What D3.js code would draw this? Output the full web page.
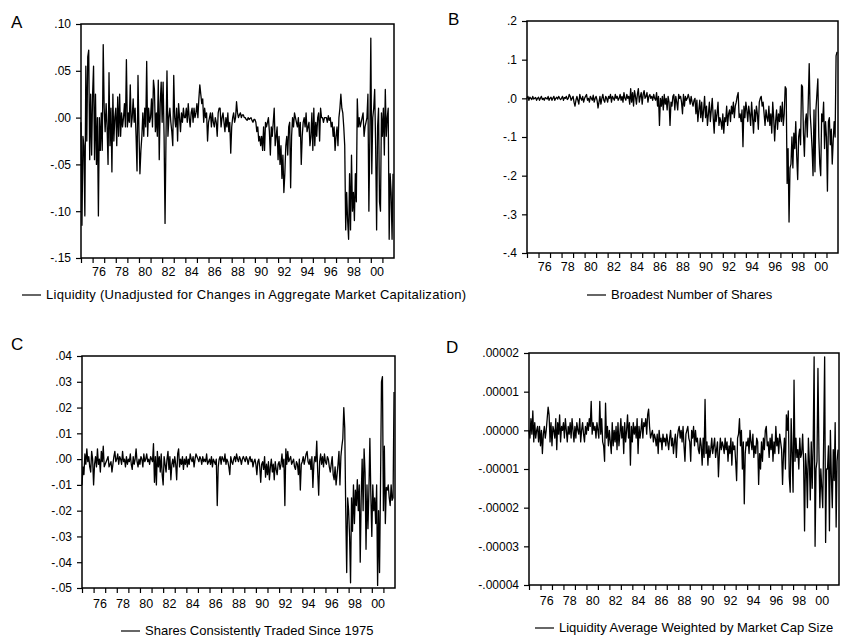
<!DOCTYPE html>
<html>
<head>
<meta charset="utf-8">
<script src="https://cdn.jsdelivr.net/npm/d3@7"></script>
<style>
body { margin: 0; background: #fff; }
svg { display: block; font-family: "Liberation Sans", Arial, Helvetica, sans-serif; }
</style>
</head>
<body>
<svg id="chart" width="850" height="637"></svg>
<script>
// monthly observations, Jan 1975 .. Dec 2001 (one row per year)
var startYear = 1975, endYear = 2002;
var labelYears = [1976, 1978, 1980, 1982, 1984, 1986, 1988, 1990, 1992, 1994, 1996, 1998, 2000];

// A: liquidity, unadjusted (units of 0.001)
var liqUnadjusted = [
  -5,-115,-20,-30,-105,55,-25,65,72,-45,25,-40,
  25,55,-45,25,-50,0,-105,0,-35,5,-35,78,
  10,-15,15,-10,-50,48,-30,10,-58,25,-25,0,
  10,-30,22,-20,25,-20,5,-10,0,15,-10,62,
  -10,5,-5,35,-10,0,20,-5,10,-20,-57,45,
  -15,-60,-35,-20,5,-20,10,-10,60,-20,10,-5,
  0,20,-10,40,30,-15,5,-20,40,-45,15,38,
  -5,38,-20,-113,-20,50,-20,0,10,-5,-15,-30,
  45,0,-10,10,-25,15,0,-15,5,-5,10,0,
  0,10,-5,15,0,-10,5,10,-5,10,0,5,
  15,0,20,35,25,15,20,-5,10,0,5,-25,
  -5,0,5,-10,5,-5,-10,0,-5,-20,5,10,
  10,-10,0,5,-5,-15,0,-10,5,-15,-5,-38,
  -10,0,5,-5,0,17,5,0,3,5,0,3,
  3,0,0,-2,-3,0,-2,-1,0,-3,-5,-2,
  -2,-5,-15,-10,-25,-20,-30,-20,-35,-10,-35,-5,
  -10,-5,0,-15,-40,-10,-20,-5,10,-30,-20,-10,
  -45,-20,-50,-30,-65,-40,-80,-60,-30,-20,-40,-10,
  -5,-75,-20,0,-10,5,0,-5,-10,0,-20,-5,
  -50,-20,-5,0,-10,5,-15,-10,-5,-30,-20,5,
  -35,10,-30,-5,-20,0,5,-25,10,0,0,-5,
  0,0,0,-5,2,-3,0,-10,-5,-20,-10,-35,
  -20,-10,-30,0,10,25,10,5,-10,-30,-120,-80,
  -110,-130,-60,-120,-40,-100,-80,-110,-60,-90,20,-10,
  0,-10,-5,0,5,-20,-10,-5,0,25,-100,-20,
  85,-60,0,10,30,-30,-120,-10,10,-90,-100,5,
  -20,10,-40,30,-20,0,10,-130,-60,-80,-130,-60
];

// B: broadest number of shares (units of 0.001)
var liqBroadest = [
  0,5,-5,3,0,-3,5,-2,0,2,-5,0,
  3,-5,0,5,-3,0,-5,2,0,-2,5,-5,
  0,3,-5,0,5,-5,0,3,-2,5,0,-3,
  0,5,-5,2,0,5,-3,0,10,5,-5,0,
  5,-10,-20,-5,5,-5,-15,10,0,-5,5,-10,
  0,5,10,-5,0,-10,5,0,-5,8,-10,0,
  5,-5,-25,-10,5,-15,0,10,-5,-10,5,0,
  -10,5,0,10,-10,5,0,-5,10,0,5,-5,
  0,10,-5,5,-10,15,0,-5,10,0,5,-15,
  25,-10,15,-20,20,5,-15,10,25,-10,5,15,
  -15,10,20,0,5,15,-10,5,10,0,5,-5,
  10,0,-5,15,-20,5,-70,0,-20,5,-30,10,
  -15,0,-30,5,-10,-70,-10,-20,5,10,-30,5,
  -10,-30,10,0,5,-10,-40,10,-20,5,-5,0,
  10,0,-15,5,-10,-20,-5,0,-40,-5,-60,-30,
  -5,-50,-10,-60,-30,5,-50,-20,-70,-40,-10,-60,
  -30,0,-50,-90,-30,-60,-40,-10,-70,-50,-60,-80,
  -40,-90,-50,-60,-20,-70,-40,-30,-60,-20,-40,-10,
  -50,-20,-10,5,15,-50,-40,-60,-30,-125,-20,-50,
  -10,-30,-60,-20,-40,-70,-10,-50,-90,-30,-60,-20,
  -40,-80,-10,0,5,-20,-10,-40,-70,-30,-50,-60,
  -20,-70,-40,-90,-10,-50,-110,-60,-30,-80,-40,-60,
  -20,-60,-10,-70,-40,30,25,-220,-130,-320,-180,-170,
  -100,-180,-90,-130,-60,-150,-210,-100,-80,-120,35,30,
  -90,-150,-60,-40,-100,-10,90,-40,-80,-130,-200,-30,
  -190,-30,10,50,-100,-170,-200,-40,-60,-10,-130,-60,
  -100,-240,-60,-50,-120,-80,-170,-110,-60,-100,110,120
];

// C: shares consistently traded since 1975 (units of 0.0001)
var liqConsistent = [
  -100,-30,-60,20,-20,40,-10,10,-30,-50,30,0,
  -100,-20,10,-30,40,-20,0,-50,30,-10,50,-30,
  -20,-10,0,10,-30,-20,-10,-50,-20,10,30,-10,
  0,20,-20,10,0,-20,30,-10,0,-30,10,-20,
  0,-10,20,-20,-40,10,-20,0,40,-10,-30,0,
  -20,10,0,-30,20,-10,0,20,-10,0,-20,10,
  0,-10,60,-90,10,-100,30,-30,10,-50,20,-60,
  -100,10,-20,-50,0,30,-40,10,-80,-20,0,-30,
  10,-20,-80,20,40,-30,0,-20,10,-40,0,-20,
  10,-30,0,-20,20,0,-10,10,-30,0,20,10,
  0,-10,10,0,-20,10,-10,0,-10,20,-20,-10,
  0,-20,10,-30,0,-10,-20,0,-180,-30,0,10,
  -20,10,0,-10,20,-20,0,-10,-30,-60,10,-10,
  -20,0,10,-10,20,0,-10,10,0,-20,0,10,
  0,-10,10,0,-20,0,10,-10,0,-30,-10,0,
  -20,-60,-10,0,-30,-90,-20,-10,-40,10,-70,-20,
  -60,-10,-80,-30,0,-50,-20,-80,-10,-40,-60,-20,
  -10,-40,-20,20,-30,0,-180,40,-20,30,-10,0,
  10,-20,-10,0,-30,-40,-10,-20,-60,0,-120,-20,
  -10,10,-20,0,20,30,-10,-20,0,-40,10,-110,
  -20,10,-10,70,-50,-140,-10,20,-20,10,-30,20,
  -10,-20,10,0,-30,-50,-20,10,-60,-80,-30,-100,
  -60,-20,30,-100,10,50,80,200,120,-200,-440,-150,
  -200,-300,-480,-150,-280,-100,-250,-120,-180,-80,-200,-100,
  -400,-150,0,-200,40,-50,-350,-100,-270,-120,80,-140,
  -300,-100,-200,-150,-250,-100,-490,-200,-440,-100,300,320,
  -200,50,-250,-110,-120,-100,-150,-180,-100,-160,-150,260
];

// D: average weighted by market cap size (units of 0.0000001)
var liqWeighted = [
  0,-20,30,-10,50,-30,20,-20,0,10,-30,10,
  -40,0,-60,-10,10,-20,0,30,60,40,-30,20,
  -40,10,0,-20,30,-50,20,-10,40,-30,10,0,
  20,-20,30,0,-30,10,-10,20,-20,30,0,-30,
  10,-20,20,0,-10,30,-30,0,20,-10,-30,10,
  -10,20,0,30,10,75,-10,20,0,10,-20,20,
  0,-20,75,-10,30,-30,-40,-80,70,-20,10,-40,
  0,-30,-60,20,-40,0,-30,10,-50,20,-40,-10,
  30,-20,10,-60,20,-30,0,40,-20,20,-90,10,
  -30,20,-10,10,-20,30,-60,10,-20,0,30,-20,
  20,10,30,-10,40,55,10,-20,-10,0,-30,-10,
  -20,-40,-10,-60,0,-30,-20,-50,-10,-30,-20,-40,
  -10,-30,-50,-20,0,-40,-20,-60,-30,-10,-70,-20,
  0,10,-20,0,-30,10,-40,-80,-10,0,10,-20,
  -30,-80,0,-20,10,-40,0,-30,-20,-50,-60,-20,
  -40,-90,-20,-70,80,-60,-30,-90,-40,-70,-50,-20,
  -60,-40,-20,-70,-50,-30,-120,-60,-20,-50,-30,-40,
  -60,-20,-50,-30,-80,-40,-60,-20,-90,-30,-50,-40,
  -80,-130,-20,-10,30,-40,0,-100,-30,-190,-60,-30,
  -40,-20,-60,0,-30,-50,-10,-70,-40,-60,-20,-30,
  -140,-60,-100,-30,-80,-20,-50,0,10,-40,-30,-70,
  -20,-50,-10,-80,-30,-60,10,-40,-20,-60,-10,-30,
  -50,-140,-60,-20,-100,40,0,50,-120,-160,30,-60,
  -160,130,-80,-20,-70,-50,-100,-20,-70,-60,-10,-80,
  -260,-60,-100,-200,-20,-80,-180,-30,-150,-40,190,-300,
  -100,-80,160,-50,-200,-100,-150,-200,-20,190,-290,-100,
  -100,-40,-260,0,-120,-200,-50,-130,20,-250,-80,-50
];

var ticksA = [-0.15, -0.10, -0.05, 0, 0.05, 0.10];
var ticksB = [-0.4, -0.3, -0.2, -0.1, 0, 0.1, 0.2];
var ticksC = [-0.05, -0.04, -0.03, -0.02, -0.01, 0, 0.01, 0.02, 0.03, 0.04];
var ticksD = [-0.00004, -0.00003, -0.00002, -0.00001, 0, 0.00001, 0.00002];

var panels = [
  { letter: "A", series: liqUnadjusted, unit: 0.001, ticks: ticksA, dec: 2,
    legend: "Liquidity (Unadjusted for Changes in Aggregate Market Capitalization)",
    box: [81, 24, 394, 258], letterXY: [11, 28], xPad: 9, legX: 22, legY: 299, legW: 420 },
  { letter: "B", series: liqBroadest, unit: 0.001, ticks: ticksB, dec: 1,
    legend: "Broadest Number of Shares",
    box: [527, 21, 838, 253], letterXY: [448, 25], xPad: 9, legX: 587, legY: 299 },
  { letter: "C", series: liqConsistent, unit: 0.0001, ticks: ticksC, dec: 2,
    legend: "Shares Consistently Traded Since 1975",
    box: [82, 356, 395, 588], letterXY: [11, 350], xPad: 11, legX: 121, legY: 635 },
  { letter: "D", series: liqWeighted, unit: 0.0000001, ticks: ticksD, dec: 5,
    legend: "Liquidity Average Weighted by Market Cap Size",
    box: [529, 353, 839, 585], letterXY: [446, 353], xPad: 11, legX: 535, legY: 632 }
];

var svg = d3.select("#chart");

// ".05" / "-.05" style, plain hyphen for the minus sign
function tickFmt(dec) {
    return function(d) {
        var s = Math.abs(d).toFixed(dec).replace(/^0/, "");
        return (d < 0 ? "-" : "") + s;
    };
}

panels.forEach(function(p) {
    var g = svg.append("g");
    var x0 = p.box[0], y0 = p.box[1], x1 = p.box[2], y1 = p.box[3];
    var x = d3.scaleLinear().domain([startYear, endYear]).range([x0, x1]);
    var y = d3.scaleLinear().domain(d3.extent(p.ticks)).range([y1, y0]);

    // yearly tick marks
    var xTicks = g.append("g")
        .attr("transform", "translate(0," + y1 + ")")
        .call(d3.axisBottom(x).tickValues(d3.range(startYear, endYear)).tickSize(5).tickFormat(""));
    xTicks.select(".domain").remove();

    // labels sit in the middle of their year
    var xLab = g.append("g")
        .attr("transform", "translate(0," + y1 + ")")
        .call(d3.axisBottom(x)
            .tickValues(labelYears.map(function(d) { return d + 0.5; }))
            .tickSize(0).tickPadding(p.xPad)
            .tickFormat(function(d) { return String(Math.floor(d)).slice(2); }));
    xLab.select(".domain").remove();
    xLab.selectAll("text").attr("font-size", 12.5).attr("font-family", null).attr("fill", "#000");

    var yAx = g.append("g")
        .attr("transform", "translate(" + x0 + ",0)")
        .call(d3.axisLeft(y).tickValues(p.ticks).tickSize(5).tickPadding(5).tickFormat(tickFmt(p.dec)));
    yAx.select(".domain").remove();
    yAx.selectAll("text").attr("font-size", 12).attr("font-family", null).attr("fill", "#000");
    g.selectAll(".tick line").attr("stroke", "#000").attr("stroke-width", 1.2);

    var line = d3.line()
        .x(function(d, i) { return x(startYear + i / 12); })
        .y(function(d) { return y(d * p.unit); });

    g.append("path")
        .datum(p.series)
        .attr("d", line)
        .attr("fill", "none")
        .attr("stroke", "#000")
        .attr("stroke-width", 1.3)
        .attr("stroke-linejoin", "round");

    g.append("rect")
        .attr("x", x0).attr("y", y0)
        .attr("width", x1 - x0).attr("height", y1 - y0)
        .attr("fill", "none").attr("stroke", "#000").attr("stroke-width", 1.5);

    g.append("text")
        .attr("x", p.letterXY[0]).attr("y", p.letterXY[1])
        .attr("font-size", 17)
        .text(p.letter);

    // legend
    g.append("line")
        .attr("x1", p.legX).attr("x2", p.legX + 19)
        .attr("y1", p.legY - 4).attr("y2", p.legY - 4)
        .attr("stroke", "#000").attr("stroke-width", 1.2);
    var lt = g.append("text")
        .attr("x", p.legX + 24).attr("y", p.legY)
        .attr("font-size", 13)
        .text(p.legend);
    if (p.legW) lt.attr("textLength", p.legW).attr("lengthAdjust", "spacing");
});
</script>
</body>
</html>
